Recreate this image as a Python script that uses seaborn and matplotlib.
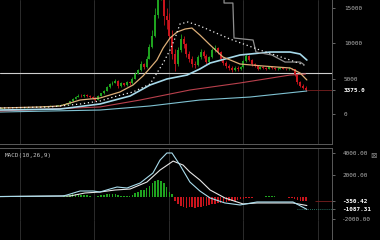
import matplotlib
matplotlib.use("Agg")
import matplotlib.pyplot as plt
import seaborn as sns

# ---------------- data ----------------
candle_idx = list(range(108))
opens = [760, 780, 800, 820, 790, 830, 860, 850, 880, 920,
         950, 1000, 980, 1020, 1050, 1000, 1080, 1100, 1150, 1120,
         1180, 1250, 1300, 1350, 1500, 1800, 2100, 2400, 2600, 2500,
         2650, 2550, 2400, 2300, 2000, 2600, 2900, 3300, 3800, 4200,
         4400, 4700, 4000, 4300, 4100, 4500, 4300, 5000, 5700, 6200,
         7000, 6600, 7800, 9500, 11000, 14000, 16500, 19000, 13800, 13200,
         11000, 8500, 7000, 9000, 10500, 9800, 8500, 7800, 7000, 6900,
         8000, 8800, 8200, 7300, 8000, 9000, 9300, 8700, 7800, 7200,
         6800, 6500, 6200, 6500, 6300, 6600, 7400, 8200, 7600, 7000,
         6800, 6400, 6600, 6500, 6400, 6600, 6500, 6300, 6400, 6500,
         6400, 6300, 6400, 6300, 5600, 4500, 4000, 3700]
closes = [780, 800, 820, 790, 830, 860, 850, 880, 920, 950,
          1000, 980, 1020, 1050, 1000, 1080, 1100, 1150, 1120, 1180,
          1250, 1300, 1350, 1500, 1800, 2100, 2400, 2600, 2500, 2650,
          2550, 2400, 2300, 2000, 2600, 2900, 3300, 3800, 4200, 4400,
          4700, 4000, 4300, 4100, 4500, 4300, 5000, 5700, 6200, 7000,
          6600, 7800, 9500, 11000, 14000, 16500, 19000, 13800, 13200, 11000,
          8500, 7000, 9000, 10500, 9800, 8500, 7800, 7000, 6900, 8000,
          8800, 8200, 7300, 8000, 9000, 9300, 8700, 7800, 7200, 6800,
          6500, 6200, 6500, 6300, 6600, 7400, 8200, 7600, 7000, 6800,
          6400, 6600, 6500, 6400, 6600, 6500, 6300, 6400, 6500, 6400,
          6300, 6400, 6300, 5600, 4500, 4000, 3700, 3375]
highs = [800, 830, 850, 840, 860, 890, 900, 910, 950, 990,
         1040, 1050, 1060, 1100, 1090, 1120, 1150, 1200, 1190, 1230,
         1300, 1360, 1420, 1560, 1880, 2200, 2500, 2780, 2760, 2800,
         2750, 2650, 2500, 2400, 2700, 3000, 3450, 3950, 4400, 4600,
         4950, 4850, 4450, 4400, 4700, 4650, 5200, 5900, 6400, 7400,
         7200, 8100, 9900, 11800, 15000, 17500, 19800, 19500, 15000, 14200,
         11800, 9200, 9400, 11200, 11000, 10000, 8900, 8100, 7500, 8300,
         9100, 9000, 8400, 8200, 9300, 9700, 9500, 8900, 8000, 7400,
         7000, 6700, 6700, 6700, 6800, 7600, 8500, 8300, 7700, 7200,
         6900, 6800, 6700, 6600, 6750, 6700, 6600, 6550, 6600, 6600,
         6500, 6550, 6450, 6400, 5700, 4700, 4200, 3900]
lows = [740, 770, 780, 760, 780, 810, 820, 830, 860, 900,
        930, 950, 960, 1000, 970, 980, 1050, 1080, 1090, 1100,
        1150, 1220, 1270, 1320, 1470, 1760, 2050, 2350, 2400, 2420,
        2450, 2300, 2150, 1850, 1950, 2550, 2850, 3250, 3700, 4100,
        4300, 3600, 3850, 3900, 4000, 4150, 4250, 4950, 5600, 6100,
        6300, 6500, 7700, 9300, 10800, 13500, 16000, 12500, 12000, 10500,
        7800, 6000, 6800, 8800, 9300, 8000, 7300, 6600, 6500, 6700,
        7800, 7900, 7000, 7100, 7900, 8800, 8400, 7500, 6900, 6500,
        6200, 5900, 6000, 6100, 6200, 6500, 7300, 7400, 6800, 6600,
        6200, 6300, 6300, 6250, 6350, 6350, 6200, 6250, 6300, 6300,
        6200, 6250, 6200, 5400, 4200, 3800, 3500, 3200]

# moving-average style overlays (x in candle index, y in price)
ma_tan_x = [-0.5, 13.5, 20.6, 27.6, 34.6, 41.6, 46.2, 49.7, 52.2, 54.6, 56.8, 59.2,
            61.7, 64.5, 66.9, 69.7, 73.3, 77.8, 83.8, 91.9, 101.4, 104.9, 107.3]
ma_tan_y = [845, 990, 1130, 1970, 2250, 3100, 4080, 5350, 6480, 7600, 9300, 10700,
            11550, 11970, 12110, 11130, 9720, 8030, 7040, 6760, 6480, 5780, 4790]
ma_dot_x = [-0.5, 17.0, 27.6, 34.6, 40.6, 46.2, 52.2, 56.8, 59.2, 61.0, 62.7, 65.5,
            69.7, 80.3, 90.8, 101.4, 107.3]
ma_dot_y = [845, 986, 1408, 1831, 2535, 3100, 4225, 7180, 9010, 10700, 12680, 12960,
            12400, 10560, 9010, 7600, 6760]
ma_cyan_x = [-0.5, 20.6, 34.6, 45.2, 52.2, 58.1, 65.2, 69.7, 73.3, 83.8, 94.4, 101.4, 104.9, 107.3]
ma_cyan_y = [560, 700, 1410, 2540, 4085, 4930, 5490, 6340, 7180, 8310, 8730, 8730, 8450, 7600]
ma_red_x = [-0.5, 34.6, 48.7, 66.2, 83.8, 101.4, 106.8]
ma_red_y = [420, 990, 1970, 3380, 4370, 5490, 5630]
ma_low_x = [-0.5, 34.6, 52.2, 69.7, 87.3, 107.3]
ma_low_y = [280, 560, 1130, 1970, 2390, 3240]
stair_x = [78.2, 78.2, 81.3, 81.7, 88.4, 89.4, 95.0, 99.6, 104.9, 106.0]
stair_y = [17460, 15630, 15630, 10700, 10420, 8730, 8310, 7320, 7320, 7040]
level_price = 5775
last_price = 3375

# MACD(10,26,9)
macd_x = [-0.5, 21.6, 23.0, 27.6, 32.2, 34.6, 38.1, 40.6, 44.1, 48.7, 53.2, 55.7, 58.1,
          59.9, 62.7, 66.2, 69.7, 73.3, 78.5, 83.8, 89.8, 102.4, 107.3]
macd_y = [70, 120, 210, 570, 570, 480, 750, 930, 840, 1290, 2190, 3360, 4000,
          4000, 2910, 1380, 570, -60, -510, -690, -420, -420, -1087]
signal_x = [-0.5, 21.6, 24.1, 29.3, 34.6, 39.9, 45.2, 51.1, 55.7, 60.3, 63.8, 66.2,
            69.7, 73.3, 78.5, 84.9, 89.8, 102.4, 107.3]
signal_y = [70, 120, 120, 390, 480, 660, 750, 1380, 2460, 3270, 2910, 2280,
            1560, 660, -60, -600, -510, -510, -740]
hist = [10, 15, 20, 10, 20, 25, 20, 25, 30, 30,
        40, 30, 35, 40, 25, 40, 45, 50, 40, 50,
        60, 70, 90, 130, 200, 260, 300, 320, 250, 220,
        180, 120, 60, 20, 100, 180, 250, 300, 330, 320,
        300, 180, 150, 120, 160, 150, 250, 380, 500, 650,
        700, 850, 1050, 1250, 1450, 1560, 1500, 1250, 900, 500,
        300, -300, -600, -780, -880, -920, -900, -900, -920, -880,
        -850, -820, -780, -720, -640, -580, -520, -470, -430, -400,
        -370, -330, -290, -240, -190, -140, -90, -50, -20, 10,
        30, 50, 70, 90, 100, 95, 85, 70, 50, 30,
        10, -40, -90, -160, -240, -310, -360, -350]

price_ticks = [0, 3375, 5000, 10000, 15000]
price_labels = ["0", "3375.0", "5000", "10000", "15000"]
macd_ticks = [-2000, -1087.31, -350.42, 2000, 4000]
macd_labels = ["-2000.00", "-1087.31", "-350.42", "2000.00", "4000.00"]
grid_x = [6.5, 32.6, 58.8, 84.9, 111.1]

# ---------------- style ----------------
sns.set_theme(style="dark", rc={"axes.facecolor": "#000000",
                                 "figure.facecolor": "#000000",
                                 "savefig.facecolor": "#000000"})
plt.rcParams['font.family'] = ['DejaVu Sans Mono', 'DejaVu Sans']

GREEN = "#1fa31f"
RED = "#c8141c"
GRID = "#2c2c2c"
SPINE = "#5a5a5a"
LABEL = "#b0b0b0"

fig = plt.figure(figsize=(3.8, 2.4), dpi=100)
W = 332 / 380
ax1 = fig.add_axes([0, 0.4, W, 0.6])
ax2 = fig.add_axes([0, 20.5 / 240, W, 71.5 / 240])
ax3 = fig.add_axes([0, 0, W, 20.5 / 240])

XL = (-0.53, 116.13)
for ax in (ax1, ax2, ax3):
    ax.set_facecolor("#000000")
    ax.set_xlim(*XL)
    ax.set_xticks(grid_x)
    ax.set_xticklabels([])
    ax.grid(True, axis="x", color=GRID, lw=0.7)
    ax.grid(False, axis="y")
    for s in ax.spines.values():
        s.set_visible(False)
    ax.spines["right"].set_visible(True)
    ax.spines["right"].set_color(SPINE)
    ax.spines["right"].set_linewidth(0.7)
    ax.tick_params(axis="x", length=0)
    ax.set_xlabel("")
    ax.set_ylabel("")

# ---------------- price panel ----------------
ax1.set_ylim(-4225, 16057)
colors = [GREEN if c >= o else RED for o, c in zip(opens, closes)]
ax1.vlines(candle_idx, lows, highs, colors=colors, lw=0.6, zorder=2)
ax1.bar(candle_idx, [max(abs(c - o), 25) for o, c in zip(opens, closes)],
        bottom=[min(o, c) for o, c in zip(opens, closes)],
        width=0.7, color=colors, linewidth=0, zorder=2)

ax1.axhline(level_price, color="#cfcfcf", lw=0.8, zorder=1)
sns.lineplot(x=ma_low_x, y=ma_low_y, ax=ax1, color="#7fc2d2", lw=0.8, estimator=None, sort=False, zorder=3)
sns.lineplot(x=ma_red_x, y=ma_red_y, ax=ax1, color="#b8404c", lw=0.8, estimator=None, sort=False, zorder=3)
sns.lineplot(x=ma_cyan_x, y=ma_cyan_y, ax=ax1, color="#a6d9ea", lw=1.2, estimator=None, sort=False, zorder=3)
sns.lineplot(x=stair_x, y=stair_y, ax=ax1, color="#8e8e8e", lw=0.9, estimator=None, sort=False, zorder=3)
sns.lineplot(x=ma_tan_x, y=ma_tan_y, ax=ax1, color="#dcae78", lw=0.9, estimator=None, sort=False, zorder=4)
sns.lineplot(x=ma_dot_x, y=ma_dot_y, ax=ax1, color="#eeeeee", lw=0.9, linestyle=(0, (1, 2.2)),
             estimator=None, sort=False, zorder=4)
ax1.hlines(last_price, 107.5, XL[1], color="#7a2020", lw=0.6, zorder=1)

ax1.yaxis.tick_right()
ax1.set_yticks(price_ticks)
ax1.set_yticklabels(price_labels)
ax1.tick_params(axis="y", left=False, right=True, labelleft=False, labelright=True,
                length=2.5, width=0.6, color="#777777", pad=6, labelsize=4.3, labelcolor=LABEL)
ax1.get_yticklabels()[1].set_color("#ffffff")
ax1.get_yticklabels()[1].set_fontweight("bold")
ax1.spines["bottom"].set_visible(True)
ax1.spines["bottom"].set_color(SPINE)
ax1.spines["bottom"].set_linewidth(0.7)

# ---------------- MACD panel ----------------
ax2.set_ylim(-2002, 4451)
hcolors = [GREEN if h >= 0 else RED for h in hist]
ax2.bar(candle_idx, hist, width=0.55, color=hcolors, linewidth=0, zorder=2)
sns.lineplot(x=signal_x, y=signal_y, ax=ax2, color="#e6e6e6", lw=0.8, estimator=None, sort=False, zorder=3)
sns.lineplot(x=macd_x, y=macd_y, ax=ax2, color="#a9dcec", lw=0.8, estimator=None, sort=False, zorder=3)
ax2.hlines(-1087.31, 104, XL[1], color="#2f8f7c", lw=0.6, linestyle=(0, (1, 1.5)), zorder=1)
ax2.hlines(-350.42, 110, XL[1], color="#7a2020", lw=0.6, zorder=1)

ax2.yaxis.tick_right()
ax2.set_yticks(macd_ticks)
ax2.set_yticklabels(macd_labels)
ax2.tick_params(axis="y", left=False, right=True, labelleft=False, labelright=True,
                length=2.5, width=0.6, color="#777777", pad=5, labelsize=4.3, labelcolor=LABEL)
for k in (1, 2):
    ax2.get_yticklabels()[k].set_color("#ffffff")
    ax2.get_yticklabels()[k].set_fontweight("bold")
for side in ("top", "bottom"):
    ax2.spines[side].set_visible(True)
    ax2.spines[side].set_color(SPINE)
    ax2.spines[side].set_linewidth(0.7)

ax3.set_yticks([])
ax3.tick_params(axis="y", length=0)

fig.text(5 / 380, 1 - 155 / 240, "MACD(10,26,9)", fontsize=4.3, color="#c4c4c4",
         va="center", ha="left")
fig.text(373 / 380, 1 - 155 / 240, "\u22a0", fontsize=5.5, color="#8a8a8a",
         va="center", ha="center", family=["DejaVu Sans"])

fig.savefig("out.png", dpi=100, facecolor="#000000")
